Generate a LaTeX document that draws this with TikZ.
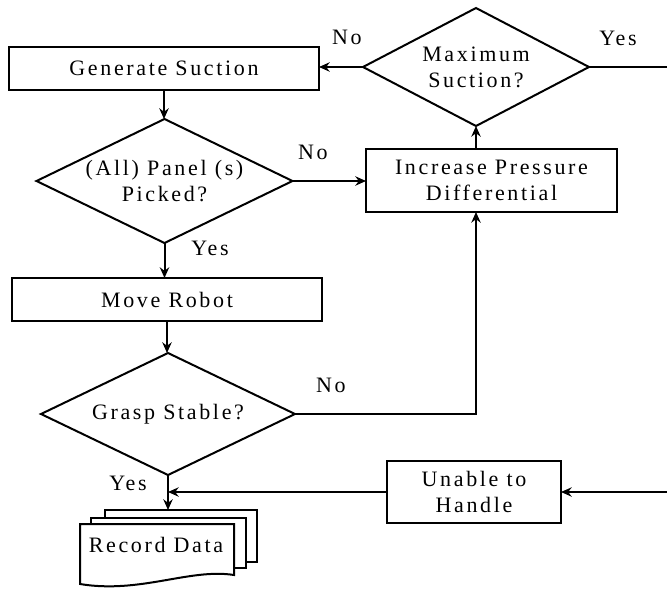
\documentclass[tikz,border=0pt]{standalone}
\usepackage{fontspec}
\newfontfamily\flowfont{Liberation Serif}[LetterSpace=12]
\usetikzlibrary{shapes.geometric, arrows.meta}

\begin{document}
\begin{tikzpicture}[x=0.75pt, y=-0.75pt, line width=1.5pt,
  every node/.style={font=\flowfont\fontsize{16.5}{19.5}\selectfont, align=center},
  box/.style={draw, rectangle, inner sep=0pt, outer sep=0pt},
  test/.style={draw, diamond, shape aspect=2, inner sep=0pt, outer sep=0pt},
  flow/.style={-{Stealth[length=8pt, width=7pt]}}]
\useasboundingbox (0,0) rectangle (667,589);
% steps and tests
\node[box, minimum width=232.5pt, minimum height=32.25pt] (gen) at (164,68.5) {Generate Suction};
\node[test, minimum width=169.5pt, minimum height=88.5pt] (maxs) at (476,67) {Maximum\\Suction?};
\node[test, minimum width=192pt, minimum height=93pt] (panel) at (164.5,181) {(All) Panel (s)\\Picked?};
\node[box, minimum width=188.25pt, minimum height=47.25pt] (inc) at (491.5,180.5) {Increase Pressure\\Differential};
\node[box, minimum width=232.5pt, minimum height=32.25pt] (move) at (167,299.5) {Move Robot};
\node[test, minimum width=190.5pt, minimum height=91.5pt] (grasp) at (168,414) {Grasp Stable?};
\node[box, minimum width=130.5pt, minimum height=46.5pt] (unable) at (474,492) {Unable to\\Handle};
% record data sheets
\draw (105,518) -- (105,510) -- (257,510) -- (257,562) -- (246,562);
\draw (91,524) -- (91,518) -- (246,518) -- (246,568) -- (234,568);
\draw (80,524) -- (234,524) -- (234,575) .. controls (190,568) and (140,594) .. (80,584) -- cycle;
\node (rec) at (156,545) {Record Data};
\coordinate (rectop) at (168,510);
\coordinate (outr) at (667,67);
\coordinate (inr) at (667,492);
% connectors
\draw[flow] (gen.south) -- (gen.south |- panel.north);
\draw[flow] (panel.east) -- (panel.east -| inc.west);
\draw[flow] (panel.south) -- (panel.south |- move.north);
\draw[flow] (move.south) -- (move.south |- grasp.north);
\draw[flow] (grasp.east) -| (inc.south -| maxs.south);
\draw[flow] (maxs.south |- inc.north) -- (maxs.south);
\draw[flow] (maxs.west) -- (maxs.west -| gen.east);
\draw (maxs.east) -- (outr);
\draw[flow] (inr) -- (unable.east);
\draw[flow] (unable.west) -- (unable.west -| grasp.south);
\draw[flow] (grasp.south) -- (rectop);
% answers
\node (no1) at (347,37) {No};
\node (yes1) at (618,38) {Yes};
\node (no2) at (313,152) {No};
\node (yes2) at (210,248) {Yes};
\node (no3) at (331,385) {No};
\node (yes3) at (128,483) {Yes};
\end{tikzpicture}
\end{document}
